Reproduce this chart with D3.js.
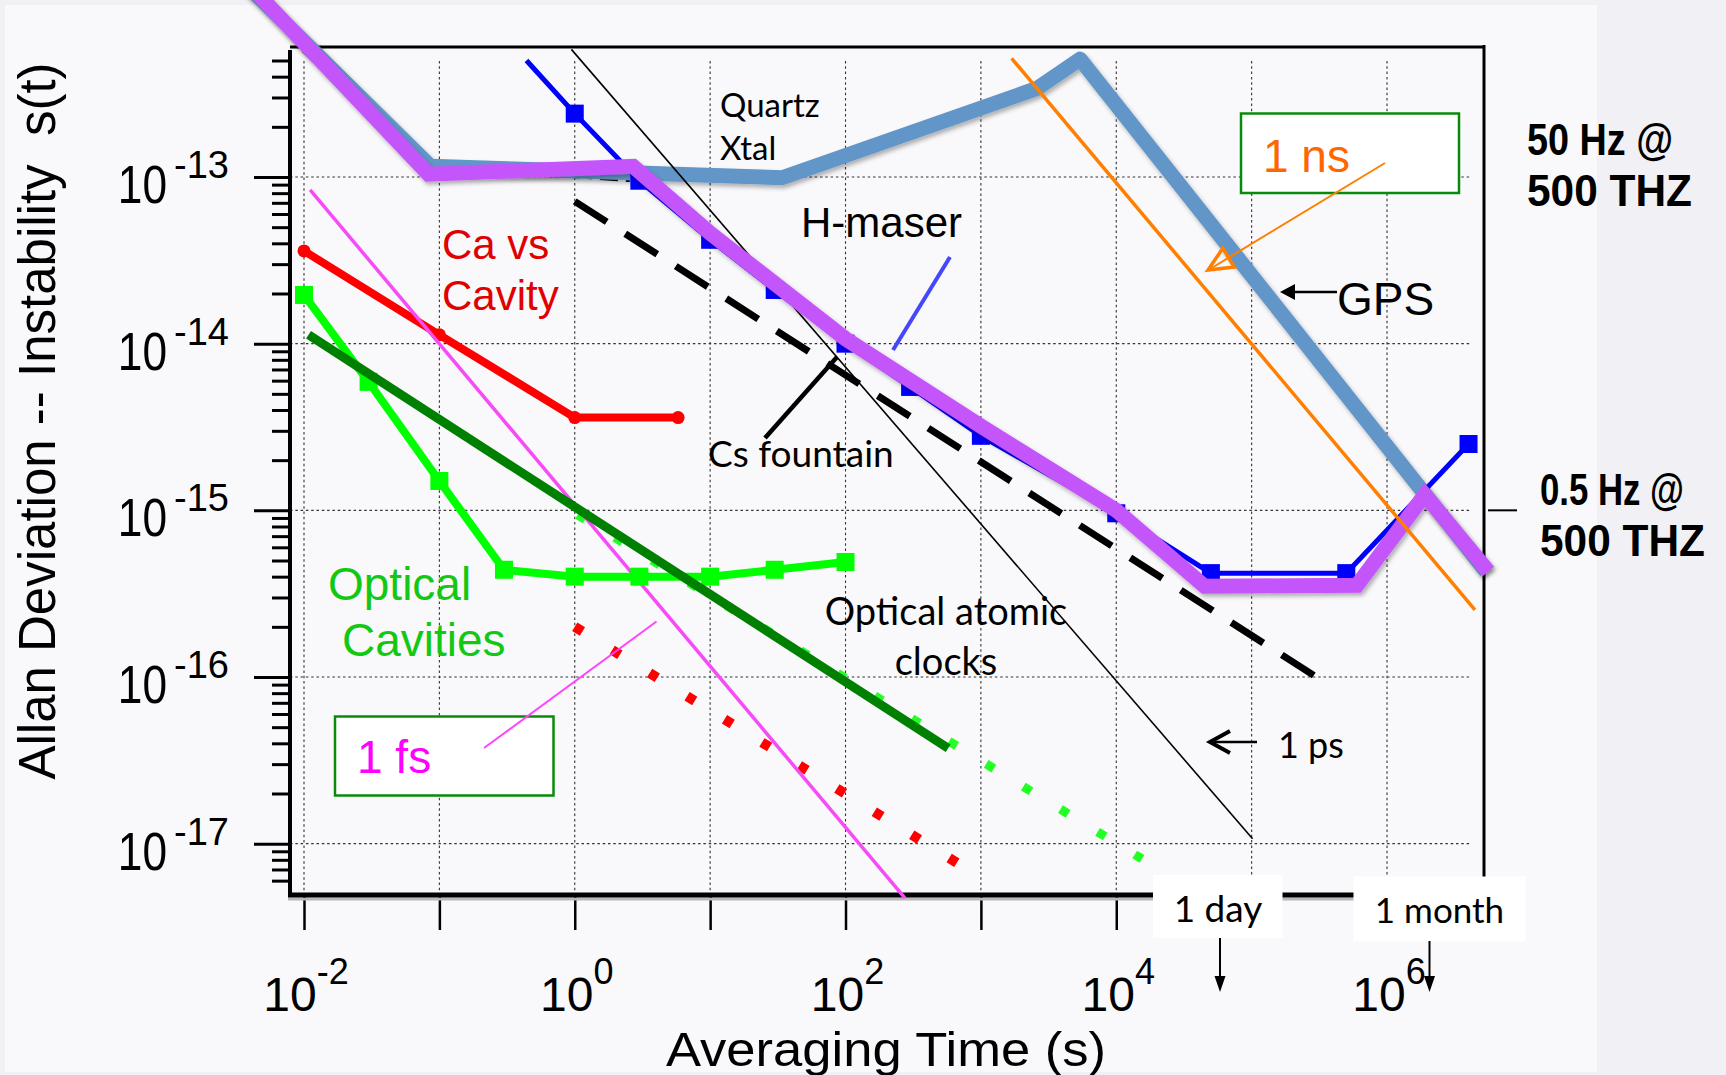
<!DOCTYPE html>
<html>
<head>
<meta charset="utf-8">
<script src="https://cdn.jsdelivr.net/npm/d3@7"></script>
<style>
  html, body { margin: 0; padding: 0; background: #f1f0f5; }
  svg { display: block; }
</style>
</head>
<body>
<svg id="chart" width="1726" height="1075"></svg>
<script>
// ---------------- data: averaging time tau (s) and Allan deviation sigma ----------------
const xTickExps  = [-2, -1, 0, 1, 2, 3, 4, 5, 6];
const xLabelExps = [-2, 0, 2, 4, 6];
const yTickExps  = [-13, -14, -15, -16, -17];

// best-clock envelope (violet)
const envTau   = [0.004, 0.083, 2.7, 10, 100, 1000, 1e4, 4.5e4, 6e5, 1.9e6, 5.6e6];
const envSigma = [1.4e-12, 1.04e-13, 1.16e-13, 4.6e-14, 1.07e-14, 3.2e-15, 1.0e-15, 3.5e-16, 3.55e-16, 1.24e-15, 4.3e-16];

// quartz crystal / GPS (steel blue)
const gpsTau   = [0.004, 0.086, 34, 2600, 5400, 5.4e6];
const gpsSigma = [1.35e-12, 1.16e-13, 9.9e-14, 3.4e-13, 5.1e-13, 4.3e-16];

// hydrogen maser (blue, square markers; first point has no marker)
const hmTau   = [0.44, 1, 3, 10, 30, 100, 300, 1000, 1e4, 5e4, 5e5, 4e6];
const hmSigma = [5.0e-13, 2.4e-13, 9.5e-14, 4.2e-14, 2.1e-14, 1.0e-14, 5.5e-15, 2.8e-15, 9.6e-16, 4.2e-16, 4.2e-16, 2.5e-15];

// Ca vs cavity (red, round markers)
const caTau   = [0.01, 0.1, 1, 5.8];
const caSigma = [3.6e-14, 1.13e-14, 3.6e-15, 3.6e-15];

// optical cavities (bright green, square markers)
const cavTau   = [0.01, 0.03, 0.1, 0.3, 1, 3, 10, 30, 100];
const cavSigma = [1.96e-14, 5.9e-15, 1.5e-15, 4.4e-16, 4.0e-16, 4.0e-16, 4.0e-16, 4.4e-16, 4.9e-16];

// optical atomic clocks (dark green) and projections (dotted)
const clkTau   = [0.0108, 573];
const clkSigma = [1.13e-14, 3.74e-17];
const clkProjTau   = [1.05, 15500];
const clkProjSigma = [9.4e-16, 8.1e-18];
const redProjTau   = [1.0, 680];
const redProjSigma = [2.0e-16, 7.6e-18];

// Cs fountain (dashed) and quartz short-term (dash-dot)
const csTau   = [1, 3.0e5];
const csSigma = [7.14e-14, 1.0e-16];
const qzTau   = [0.0099, 0.0824, 3.02];
const qzSigma = [5.78e-13, 1.18e-13, 9.55e-14];

// timing reference lines: 1 fs, 1 ps, 1 ns
const fsTau = [0.0111, 275];     const fsSigma = [8.36e-14, 4.71e-18];
const psTau = [0.944, 1.016e5];  const psSigma = [5.83e-13, 1.07e-17];
const nsTau = [1687, 4.46e6];    const nsSigma = [5.15e-13, 2.53e-16];

// ---------------- layout ----------------
const W = 1726, H = 1075;
const PL = 290, PR = 1484, PT = 47, PB = 895;
const fontA = "'Liberation Sans', Arial, Helvetica, sans-serif";
const fontC = "Lato, 'Open Sans', sans-serif";

const x = d3.scaleLog().domain([Math.pow(10, -2.1034), Math.pow(10, 6.7163)]).range([PL, PR]);
const y = d3.scaleLog().domain([Math.pow(10, -17.308), Math.pow(10, -12.22)]).range([PB, PT]);

const svg = d3.select("#chart");
const defs = svg.append("defs");
const sh = defs.append("filter").attr("id", "shadow")
  .attr("x", "-5%").attr("y", "-5%").attr("width", "110%").attr("height", "110%");
sh.append("feDropShadow").attr("dx", 2).attr("dy", 3).attr("stdDeviation", 2)
  .attr("flood-color", "#000").attr("flood-opacity", 0.3);

// page + panel background
svg.append("rect").attr("width", W).attr("height", H).attr("fill", "#f1f0f5");
svg.append("rect").attr("x", 5).attr("y", 5).attr("width", 1592).attr("height", 1067).attr("fill", "#f9f9fb");

// ---------------- grid ----------------
const grid = svg.append("g").attr("stroke", "#333").attr("stroke-width", 1.1).attr("stroke-dasharray", "2.5 2.8");
xTickExps.forEach(e => {
  const xx = x(Math.pow(10, e));
  grid.append("line").attr("x1", xx).attr("x2", xx).attr("y1", 61).attr("y2", PB);
});
yTickExps.forEach(e => {
  const yy = y(Math.pow(10, e));
  grid.append("line").attr("x1", PL).attr("x2", 1470).attr("y1", yy).attr("y2", yy);
});

// ---------------- axes ----------------
const minorY = [];
for (let k = -18; k <= -13; k++) for (let m = 2; m <= 9; m++) {
  const v = m * Math.pow(10, k);
  if (y(v) > 52 && y(v) < PB - 2) minorY.push(v);
}
const majorY = yTickExps.map(e => Math.pow(10, e));

const yMinor = svg.append("g").attr("transform", `translate(${PL},0)`)
  .call(d3.axisLeft(y).tickValues(minorY).tickSize(18).tickFormat(""));
const yMajor = svg.append("g").attr("transform", `translate(${PL},0)`)
  .call(d3.axisLeft(y).tickValues(majorY).tickSize(36).tickFormat(""));
[yMinor, yMajor].forEach(g => {
  g.select(".domain").remove();
  g.selectAll(".tick line").attr("stroke", "#000").attr("stroke-width", 3);
});

const xAx = svg.append("g").attr("transform", `translate(0,${PB})`)
  .call(d3.axisBottom(x).tickValues(xTickExps.map(e => Math.pow(10, e))).tickSize(35).tickFormat(""));
xAx.select(".domain").remove();
xAx.selectAll(".tick line").attr("stroke", "#000").attr("stroke-width", 2.5);

// frame
svg.append("line").attr("x1", PL - 2).attr("x2", PR + 2).attr("y1", PB + 4).attr("y2", PB + 4)
  .attr("stroke", "#b8b8bc").attr("stroke-width", 3);
svg.append("line").attr("x1", PL - 2).attr("x2", PR + 2).attr("y1", PB).attr("y2", PB)
  .attr("stroke", "#000").attr("stroke-width", 5);
svg.append("line").attr("x1", PL).attr("x2", PL).attr("y1", PT + 3).attr("y2", PB)
  .attr("stroke", "#000").attr("stroke-width", 4);
svg.append("line").attr("x1", PL).attr("x2", PR).attr("y1", PT).attr("y2", PT)
  .attr("stroke", "#000").attr("stroke-width", 3);
svg.append("line").attr("x1", PR).attr("x2", PR).attr("y1", PT - 2).attr("y2", PB)
  .attr("stroke", "#000").attr("stroke-width", 3);

// y tick labels: narrow "10" plus exponent
const yl = svg.append("g").attr("font-family", fontA).attr("fill", "#000");
yTickExps.forEach(e => {
  const gy = y(Math.pow(10, e));
  yl.append("text").attr("transform", `translate(167,${gy + 26}) scale(0.82,1)`)
    .attr("text-anchor", "end").attr("font-size", 54).text("10");
  yl.append("text").attr("x", 174).attr("y", gy + 1).attr("font-size", 38).text(String(e));
});
// x tick labels
const xl = svg.append("g").attr("font-family", fontA).attr("fill", "#000");
xLabelExps.forEach(e => {
  const t = xl.append("text").attr("x", x(Math.pow(10, e)) + 2).attr("y", 1010.5)
    .attr("text-anchor", "middle").attr("font-size", 48);
  t.append("tspan").text("10");
  t.append("tspan").attr("font-size", 36).attr("dy", -27).text(String(e));
});

// axis titles
svg.append("text").attr("x", 886).attr("y", 1065.5).attr("text-anchor", "middle")
  .attr("font-family", fontA).attr("font-size", 49)
  .attr("textLength", 440).attr("lengthAdjust", "spacingAndGlyphs").text("Averaging Time (s)");
svg.append("text").attr("transform", "translate(55,421) rotate(-90)").attr("text-anchor", "middle")
  .attr("font-family", fontA).attr("font-size", 51).style("white-space", "pre")
  .text("Allan Deviation -- Instability  s(t)");

// ---------------- series ----------------
const zip = (a, b) => a.map((v, i) => [v, b[i]]);
const line = d3.line().x(d => x(d[0])).y(d => y(d[1]));
const plot = svg.append("g").attr("fill", "none");

function path(tau, sig, stroke, width, extra) {
  const p = plot.append("path").datum(zip(tau, sig)).attr("d", line)
    .attr("stroke", stroke).attr("stroke-width", width)
    .attr("stroke-linejoin", "round").attr("stroke-linecap", "butt");
  if (extra) extra(p);
  return p;
}

// dotted projections
path(redProjTau, redProjSigma, "#ff0000", 10, p => p.attr("stroke-dasharray", "9 35"));
path(clkProjTau, clkProjSigma, "#22ff22", 9, p => p.attr("stroke-dasharray", "9 34.5"));

// Ca vs cavity
path(caTau, caSigma, "#ff0000", 8);
plot.append("g").selectAll("circle").data(zip(caTau, caSigma)).join("circle")
  .attr("cx", d => x(d[0])).attr("cy", d => y(d[1])).attr("r", 6.5).attr("fill", "#ff0000");

// 1 fs line
path(fsTau, fsSigma, "#f64cf6", 3.5);

// optical cavities
path(cavTau, cavSigma, "#00ff00", 8, p => p.attr("stroke-linejoin", "miter"));
plot.append("g").selectAll("rect").data(zip(cavTau, cavSigma)).join("rect")
  .attr("x", d => x(d[0]) - 9).attr("y", d => y(d[1]) - 9).attr("width", 18).attr("height", 18)
  .attr("fill", "#00ff00");

// optical atomic clocks
path(clkTau, clkSigma, "#008000", 9);

// Cs fountain and quartz short-term
path(qzTau, qzSigma, "#000", 5, p => p.attr("stroke-dasharray", "18 8 4 8"));
path(csTau, csSigma, "#000", 7, p => p.attr("stroke-dasharray", "38 22"));

// quartz / GPS
path(gpsTau, gpsSigma, "#6396c8", 15, p => p.attr("filter", "url(#shadow)"));

// 1 ps line
path(psTau, psSigma, "#000", 1.6);

// hydrogen maser
path(hmTau, hmSigma, "#0000ff", 5, p => p.attr("stroke-linejoin", "miter"));
plot.append("g").selectAll("rect").data(zip(hmTau, hmSigma).slice(1)).join("rect")
  .attr("x", d => x(d[0]) - 9).attr("y", d => y(d[1]) - 9).attr("width", 18).attr("height", 18)
  .attr("fill", "#0000ff");

// best-clock envelope
path(envTau, envSigma, "#c455fa", 15, p => p.attr("filter", "url(#shadow)").attr("stroke-linejoin", "miter"));

// 1 ns line
path(nsTau, nsSigma, "#ff7f00", 3.5);

// ---------------- annotations ----------------
const ann = svg.append("g");
function txt(px, py, s, family, size, fill, anchor, weight) {
  return ann.append("text").attr("x", px).attr("y", py).text(s)
    .attr("font-family", family).attr("font-size", size).attr("fill", fill || "#000")
    .attr("text-anchor", anchor || "start").attr("font-weight", weight || "normal");
}
function seg(x1, y1, x2, y2, stroke, width) {
  return ann.append("line").attr("x1", x1).attr("y1", y1).attr("x2", x2).attr("y2", y2)
    .attr("stroke", stroke).attr("stroke-width", width).attr("stroke-linecap", "butt");
}
function head(x1, y1, x2, y2, len, half) {
  const dx = x2 - x1, dy = y2 - y1, L = Math.hypot(dx, dy);
  const ux = dx / L, uy = dy / L, nx = -uy, ny = ux;
  const bx = x2 - ux * len, by = y2 - uy * len;
  return [[bx + nx * half, by + ny * half], [x2, y2], [bx - nx * half, by - ny * half]];
}

txt(720, 117, "Quartz", fontC, 33);
txt(720, 160, "Xtal", fontC, 33);
txt(801, 237, "H-maser", fontA, 42);
seg(950, 257, 893, 350, "#4646ff", 4);
txt(708, 467, "Cs fountain", fontC, 37);
seg(765, 438, 837, 357, "#000", 4.5);
txt(946, 625, "Optical atomic", fontC, 38, "#000", "middle");
txt(946, 675, "clocks", fontC, 38, "#000", "middle");
txt(1278, 758, "1 ps", fontC, 36);
seg(1257, 742, 1212, 742, "#000", 2.7);
ann.append("path").attr("d", d3.line()(head(1257, 742, 1210, 742, 20, 11)))
  .attr("fill", "none").attr("stroke", "#000").attr("stroke-width", 4);

txt(442, 259, "Ca vs", fontA, 42, "#e00000");
txt(442, 310, "Cavity", fontA, 42, "#e00000");
txt(328, 600, "Optical", fontA, 46, "#12c812");
txt(342, 656, "Cavities", fontA, 46, "#12c812");

txt(1337, 315, "GPS", fontA, 46);
seg(1337, 292, 1292, 292, "#000", 2.5);
ann.append("path").attr("d", d3.line()(head(1337, 292, 1280, 292, 15, 8)) + "Z").attr("fill", "#000");

// 1 ns box
ann.append("rect").attr("x", 1241).attr("y", 113.5).attr("width", 218).attr("height", 79.5)
  .attr("fill", "#fff").attr("stroke", "#0a8a0a").attr("stroke-width", 2.5);
txt(1263, 172, "1 ns", fontA, 46, "#ff6600");
seg(1385, 163, 1210, 269, "#ff7f00", 2);
ann.append("path").attr("d", d3.line()(head(1385, 163, 1208, 270, 24, 11)) + "Z")
  .attr("fill", "none").attr("stroke", "#ff7f00").attr("stroke-width", 3.5).attr("stroke-linejoin", "miter");

// 1 fs box
ann.append("rect").attr("x", 335).attr("y", 716.5).attr("width", 218.5).attr("height", 79)
  .attr("fill", "#fff").attr("stroke", "#0a8a0a").attr("stroke-width", 2.5);
txt(357, 773, "1 fs", fontA, 46, "#ff00ff");
seg(484, 748, 656.5, 621.5, "#ff44ff", 2);

// right-hand frequency notes (narrow bold)
txt(1527, 155, "50 Hz @", fontA, 44, "#000", "start", "bold")
  .attr("textLength", 146).attr("lengthAdjust", "spacingAndGlyphs");
txt(1527, 206, "500 THZ", fontA, 44, "#000", "start", "bold")
  .attr("textLength", 165).attr("lengthAdjust", "spacingAndGlyphs");
seg(1488, y(1e-15), 1517, y(1e-15), "#000", 2);
txt(1540, 505, "0.5 Hz @", fontA, 44, "#000", "start", "bold")
  .attr("textLength", 144).attr("lengthAdjust", "spacingAndGlyphs");
txt(1540, 556, "500 THZ", fontA, 44, "#000", "start", "bold")
  .attr("textLength", 165).attr("lengthAdjust", "spacingAndGlyphs");

// time-span markers under the axis
ann.append("rect").attr("x", 1153).attr("y", 875).attr("width", 129.5).attr("height", 63).attr("fill", "#fff");
txt(1218, 922, "1 day", fontC, 37, "#000", "middle");
seg(1220, 938, 1220, 978, "#000", 2);
ann.append("path").attr("d", d3.line()(head(1220, 938, 1220, 992, 16, 5.5)) + "Z").attr("fill", "#000");

ann.append("rect").attr("x", 1353.5).attr("y", 876.5).attr("width", 172).attr("height", 65).attr("fill", "#fff");
txt(1439.5, 923, "1 month", fontC, 35, "#000", "middle");
seg(1429.5, 941, 1429.5, 978, "#000", 2);
ann.append("path").attr("d", d3.line()(head(1429.5, 941, 1429.5, 992, 16, 5.5)) + "Z").attr("fill", "#000");
</script>
</body>
</html>
